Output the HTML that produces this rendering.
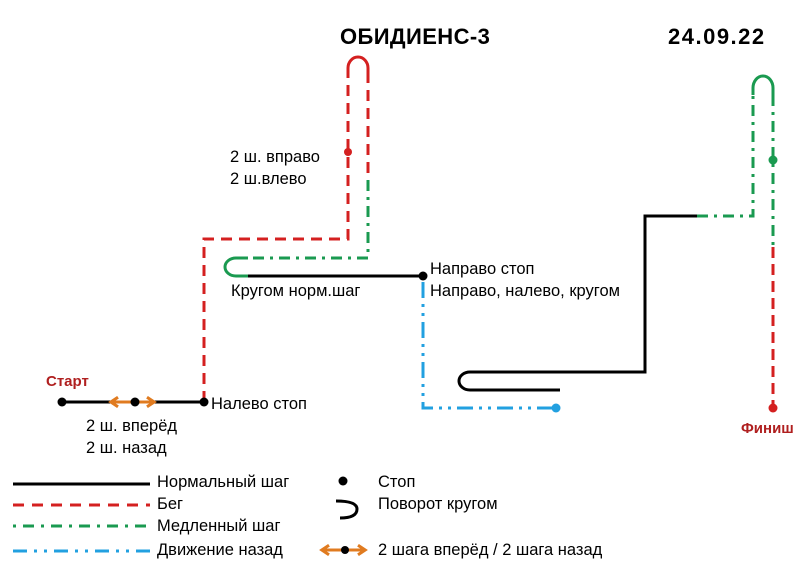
<!DOCTYPE html>
<html><head><meta charset="utf-8"><style>
body{margin:0;background:#fff;}
svg{display:block;font-family:"Liberation Sans",sans-serif;}
</style></head><body>
<svg width="800" height="582" viewBox="0 0 800 582" xmlns="http://www.w3.org/2000/svg">
<defs>
<marker id="ah" viewBox="0 0 10 10" refX="6" refY="5" markerWidth="4" markerHeight="4" orient="auto-start-reverse"><path d="M1,1 L7,5 L1,9" fill="none" stroke="#e07b20" stroke-width="2.5"/></marker>
</defs>
<text x="340" y="44" font-size="22" font-weight="bold" letter-spacing="0.4">ОБИДИЕНС-3</text>
<text x="668" y="44" font-size="22" font-weight="bold" letter-spacing="1.5">24.09.22</text>

<path d="M204,402 V239 H348 V72" fill="none" stroke="#d42020" stroke-width="3" stroke-dasharray="11,7"/>
<path d="M368,72 V180" fill="none" stroke="#d42020" stroke-width="3" stroke-dasharray="11,7"/>
<path d="M348,76 V68 A10,11 0 0 1 368,68 V76" fill="none" stroke="#d42020" stroke-width="3"/>
<circle cx="348" cy="152" r="4" fill="#d42020"/>
<path d="M368,180 V258 H248" fill="none" stroke="#1a9a50" stroke-width="3" stroke-dasharray="11,6,3,6"/>
<path d="M248,258 H236 A11,9 0 0 0 236,276 H248" fill="none" stroke="#1a9a50" stroke-width="3"/>
<path d="M248,276 H423" fill="none" stroke="#000" stroke-width="3"/>
<circle cx="423" cy="276" r="4.5" fill="#000"/>
<path d="M423,282 V408 H553" fill="none" stroke="#22a0e0" stroke-width="3" stroke-dasharray="16,6,3,6,3,6"/>
<circle cx="556" cy="408" r="4.5" fill="#22a0e0"/>
<path d="M560,390 H470 A11,9 0 0 1 470,372 H645 V216 H697" fill="none" stroke="#000" stroke-width="3"/>
<path d="M697,216 H753 V95" fill="none" stroke="#1a9a50" stroke-width="3" stroke-dasharray="11,6,3,6"/>
<path d="M753,95 V88 A10,12 0 0 1 773,88 V95" fill="none" stroke="#1a9a50" stroke-width="3"/>
<path d="M773,95 V247" fill="none" stroke="#1a9a50" stroke-width="3" stroke-dasharray="11,6,3,6"/>
<circle cx="773" cy="160" r="4.5" fill="#1a9a50"/>
<path d="M773,247 V405" fill="none" stroke="#d42020" stroke-width="3" stroke-dasharray="11,6"/>
<circle cx="773" cy="408" r="4.5" fill="#d42020"/>

<path d="M62,402 H204" stroke="#000" stroke-width="3"/>
<path d="M112,402 H153" stroke="#e07b20" stroke-width="3" marker-start="url(#ah)" marker-end="url(#ah)"/>
<circle cx="62" cy="402" r="4.5" fill="#000"/>
<circle cx="135" cy="402" r="4.5" fill="#000"/>
<circle cx="204" cy="402" r="4.5" fill="#000"/>

<g font-size="16.5">
<text x="46" y="386" fill="#b02020" font-weight="bold" font-size="15">Старт</text>
<text x="211" y="409">Налево стоп</text>
<text x="86" y="431">2 ш. вперёд</text>
<text x="86" y="453">2 ш. назад</text>
<text x="230" y="162">2 ш. вправо</text>
<text x="230" y="184">2 ш.влево</text>
<text x="231" y="296">Кругом норм.шаг</text>
<text x="430" y="274">Направо стоп</text>
<text x="430" y="296">Направо, налево,  кругом</text>
<text x="741" y="433" fill="#b02020" font-weight="bold" font-size="15">Финиш</text>
</g>

<path d="M13,484 H150" stroke="#000" stroke-width="3"/>
<path d="M13,505 H150" stroke="#d42020" stroke-width="3" stroke-dasharray="11,8"/>
<path d="M13,526 H150" stroke="#1a9a50" stroke-width="3" stroke-dasharray="3,7,11,7"/>
<path d="M13,551 H150" stroke="#22a0e0" stroke-width="3" stroke-dasharray="14,7,3,7,3,7"/>
<circle cx="343" cy="481" r="4.5" fill="#000"/>
<path d="M336,501 Q357,501 357,509 Q357,518 340,518" fill="none" stroke="#000" stroke-width="3"/>
<path d="M323,550 H364" stroke="#e07b20" stroke-width="3" marker-start="url(#ah)" marker-end="url(#ah)"/>
<circle cx="345" cy="550" r="4" fill="#000"/>
<g font-size="16.5">
<text x="157" y="487">Нормальный шаг</text>
<text x="157" y="509">Бег</text>
<text x="157" y="531">Медленный шаг</text>
<text x="157" y="555">Движение назад</text>
<text x="378" y="487">Стоп</text>
<text x="378" y="509">Поворот кругом</text>
<text x="378" y="555">2 шага вперёд / 2 шага назад</text>
</g>
</svg>
</body></html>
